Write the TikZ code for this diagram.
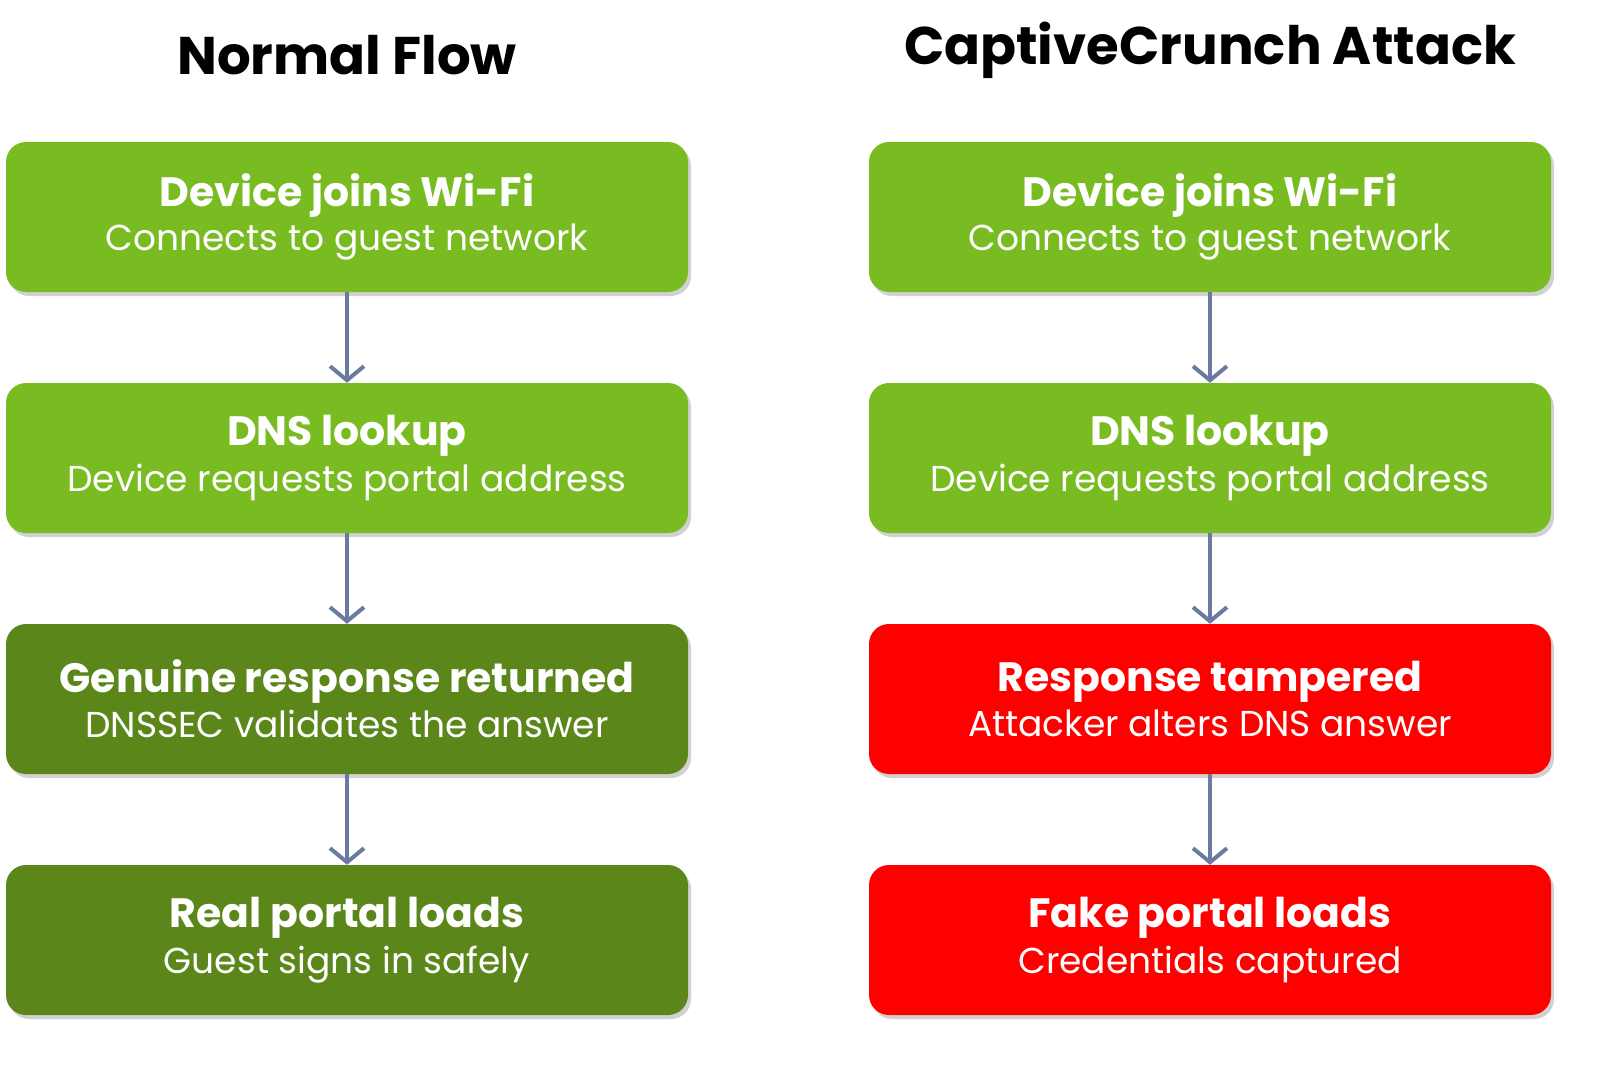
\documentclass[tikz,border=0pt]{standalone}
\usepackage{fontspec}
\setmainfont{Poppins}
\usetikzlibrary{arrows.meta,shadows}
\definecolor{lg}{HTML}{78BC22}
\definecolor{dg}{HTML}{5A861A}
\definecolor{rd}{HTML}{FF0000}
\definecolor{ar}{HTML}{6A7AA0}
\tikzset{
 box/.style={rounded corners=20pt,minimum width=682pt,minimum height=150pt,text=white,align=center,inner sep=0pt,
   drop shadow={shadow xshift=3pt,shadow yshift=-4pt,opacity=0.3,fill=black!60}},
 conn/.style={draw=ar,line width=4pt,-{Straight Barb[length=14pt,width=34pt,line width=4pt]}},
 ttl/.style={font=\fontsize{53}{60}\selectfont\bfseries}
}
\newcommand{\bx}[2]{{\fontsize{41}{46}\selectfont\bfseries #1}\\[6pt]{\fontsize{36}{40}\selectfont #2}}
\begin{document}
\begin{tikzpicture}[x=1pt,y=-1pt]
\useasboundingbox (0,0) rectangle (1618,1066);
\node[ttl] (t1) at (347,55) {Normal Flow};
\node[ttl] (t2) at (1210,50) {CaptiveCrunch Attack};
\node[box,fill=lg] (a1) at (347,217) {\bx{Device joins Wi-Fi}{Connects to guest network}};
\node[box,fill=lg] (a2) at (347,458) {\bx{DNS lookup}{Device requests portal address}};
\node[box,fill=dg] (a3) at (347,699) {\bx{Genuine response returned}{DNSSEC validates the answer}};
\node[box,fill=dg] (a4) at (347,940) {\bx{Real portal loads}{Guest signs in safely}};
\node[box,fill=lg] (b1) at (1210,217) {\bx{Device joins Wi-Fi}{Connects to guest network}};
\node[box,fill=lg] (b2) at (1210,458) {\bx{DNS lookup}{Device requests portal address}};
\node[box,fill=rd] (b3) at (1210,699) {\bx{Response tampered}{Attacker alters DNS answer}};
\node[box,fill=rd] (b4) at (1210,940) {\bx{Fake portal loads}{Credentials captured}};
\foreach \p/\q in {a1/a2,a2/a3,a3/a4,b1/b2,b2/b3,b3/b4}
  \draw[conn] (\p.south) -- (\q.north);
\end{tikzpicture}
\end{document}
